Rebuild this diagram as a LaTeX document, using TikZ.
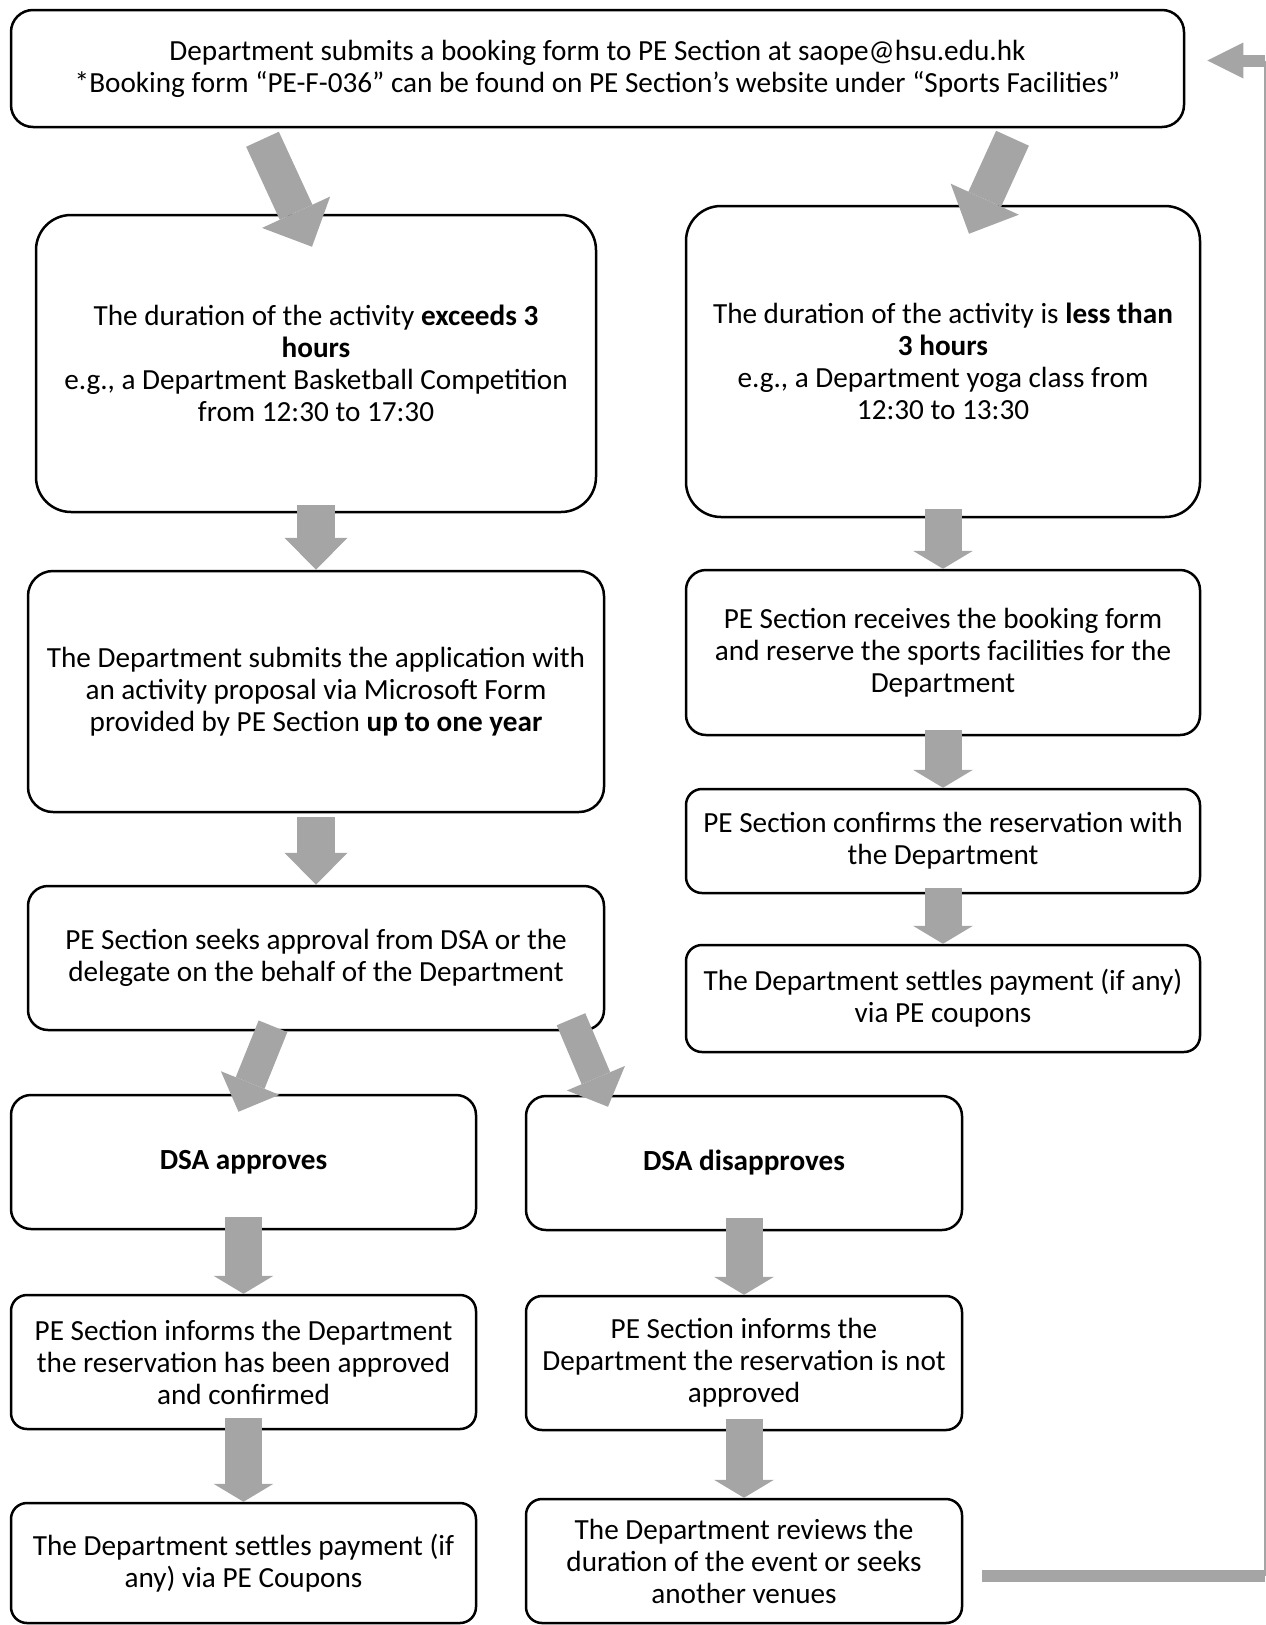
\documentclass[tikz,border=0pt]{standalone}
\usepackage{fontspec}
\setmainfont{Carlito}
\usetikzlibrary{arrows.meta}
\definecolor{arrowgray}{HTML}{A5A5A5}
\tikzset{
    box/.style={
        draw, line width=2.5pt, rounded corners=#1,
        align=center, inner sep=0pt
    },
    box/.default=16pt,
    blk/.style={
        arrowgray, line width=38pt,
        -{Triangle[length=32pt 0 0,width=63pt 0 0,line width=0pt 0 0]}
    },
    blkflat/.style={
        arrowgray, line width=37pt,
        -{Triangle[length=18pt 0 0,width=60pt 0 0,line width=0pt 0 0]}
    },
    blkdiag/.style={
        arrowgray, line width=36pt,
        -{Triangle[length=38pt 0 0,width=75pt 0 0,line width=0pt 0 0]}
    },
    blkdiagsmall/.style={
        arrowgray, line width=31pt,
        -{Triangle[length=31pt 0 0,width=63pt 0 0,line width=0pt 0 0]}
    }
}

\begin{document}
\begin{tikzpicture}[x=1pt,y=-1pt,font=\fontsize{29.2pt}{32pt}\selectfont]

		\useasboundingbox (0,0) rectangle (1266,1625);

		% Booking form
		\node [box=22pt, minimum width=1173pt, minimum height=117pt] (form) at (597.5,68.5)
			{Department submits a booking form to PE Section at saope@hsu.edu.hk\\
			 *Booking form “PE-F-036” can be found on PE Section’s website under “Sports Facilities”};

		% Long activity (left column)
		\node [box=35pt, minimum width=560pt, minimum height=297pt] (long) at (316,363.5)
			{The duration of the activity \textbf{exceeds 3}\\ \textbf{hours}\\
			 e.g., a Department Basketball Competition\\ from 12:30 to 17:30};
		\node [box=25pt, minimum width=576pt, minimum height=241pt] (proposal) at (316,691.5)
			{The Department submits the application with\\ an activity proposal via Microsoft Form\\
			 provided by PE Section \textbf{up to one year}};
		\node [box=20pt, minimum width=576pt, minimum height=144pt] (seek) at (316,958)
			{PE Section seeks approval from DSA or the\\ delegate on the behalf of the Department};

		% Short activity (right column)
		\node [box=35pt, minimum width=514pt, minimum height=311pt] (short) at (943,361.5)
			{The duration of the activity is \textbf{less than}\\ \textbf{3 hours}\\
			 e.g., a Department yoga class from\\ 12:30 to 13:30};
		\node [box=20pt, minimum width=514pt, minimum height=165pt] (receive) at (943,652.5)
			{PE Section receives the booking form\\ and reserve the sports facilities for the\\ Department};
		\node [box, minimum width=514pt, minimum height=104pt] (confirm) at (943,841)
			{PE Section confirms the reservation with\\ the Department};
		\node [box, minimum width=514pt, minimum height=107pt] (payR) at (943,998.5)
			{The Department settles payment (if any)\\ via PE coupons};

		% DSA approves
		\node [box=20pt, minimum width=465pt, minimum height=134pt] (yes) at (243.5,1162)
			{\textbf{DSA approves}};
		\node [box, minimum width=465pt, minimum height=134pt] (informY) at (243.5,1362)
			{PE Section informs the Department\\ the reservation has been approved\\ and confirmed};
		\node [box, minimum width=465pt, minimum height=120pt] (payL) at (243.5,1563)
			{The Department settles payment (if\\ any) via PE Coupons};

		% DSA disapproves
		\node [box=20pt, minimum width=436pt, minimum height=134pt] (no) at (744,1163)
			{\textbf{DSA disapproves}};
		\node [box, minimum width=436pt, minimum height=134pt] (informN) at (744,1363)
			{PE Section informs the\\ Department the reservation is not\\ approved};
		\node [box, minimum width=436pt, minimum height=124pt] (review) at (744,1561)
			{The Department reviews the\\ duration of the event or seeks\\ another venues};

		% Split arrows
		\draw [blkdiag] ([xshift=-335pt,yshift=-11pt]form.south) -- ([xshift=-4pt,yshift=-33pt]long.north);
		\draw [blkdiag] ([xshift=415pt,yshift=-10pt]form.south) -- ([xshift=26pt,yshift=-29pt]short.north);
		\draw [blkdiagsmall] ([xshift=-43pt,yshift=5pt]seek.south) -- ([xshift=-5pt,yshift=-18pt]yes.north);
		\draw [blkdiagsmall] ([xshift=255pt,yshift=12pt]seek.south) -- ([xshift=-136pt,yshift=-12pt]no.north);

		% Down arrows
		\draw [blk] ([yshift=8pt]long.south) -- (proposal.north);
		\draw [blk] ([yshift=-4pt]proposal.south) -- (seek.north);
		\draw [blkflat] ([yshift=9pt]short.south) -- (receive.north);
		\draw [blkflat] ([yshift=6pt]receive.south) -- (confirm.north);
		\draw [blkflat] ([yshift=6pt]confirm.south) -- (payR.north);
		\draw [blkflat] ([yshift=13pt]yes.south) -- (informY.north);
		\draw [blkflat] ([yshift=12pt]informY.south) -- (payL.north);
		\draw [blkflat] ([yshift=13pt]no.south) -- (informN.north);
		\draw [blkflat] ([yshift=12pt]informN.south) -- (review.north);

		% Back to the booking form
		\coordinate (back1) at ([xshift=19pt,yshift=-15pt]review.east);
		\coordinate (back2) at ([xshift=80pt]form.east |- back1);
		\coordinate (back3) at ([xshift=80pt,yshift=8pt]form.east);
		\coordinate (back4) at ([xshift=22pt,yshift=8pt]form.east);
		\draw [arrowgray, line width=12pt] (back1) -- (back2);
		\draw [arrowgray, line width=2pt] (back2) -- (back3);
		\draw [arrowgray, line width=12pt, -{Triangle[length=36pt 0 0,width=36pt 0 0,line width=0pt 0 0]}] (back3) -- (back4);

	\end{tikzpicture}
\end{document}
